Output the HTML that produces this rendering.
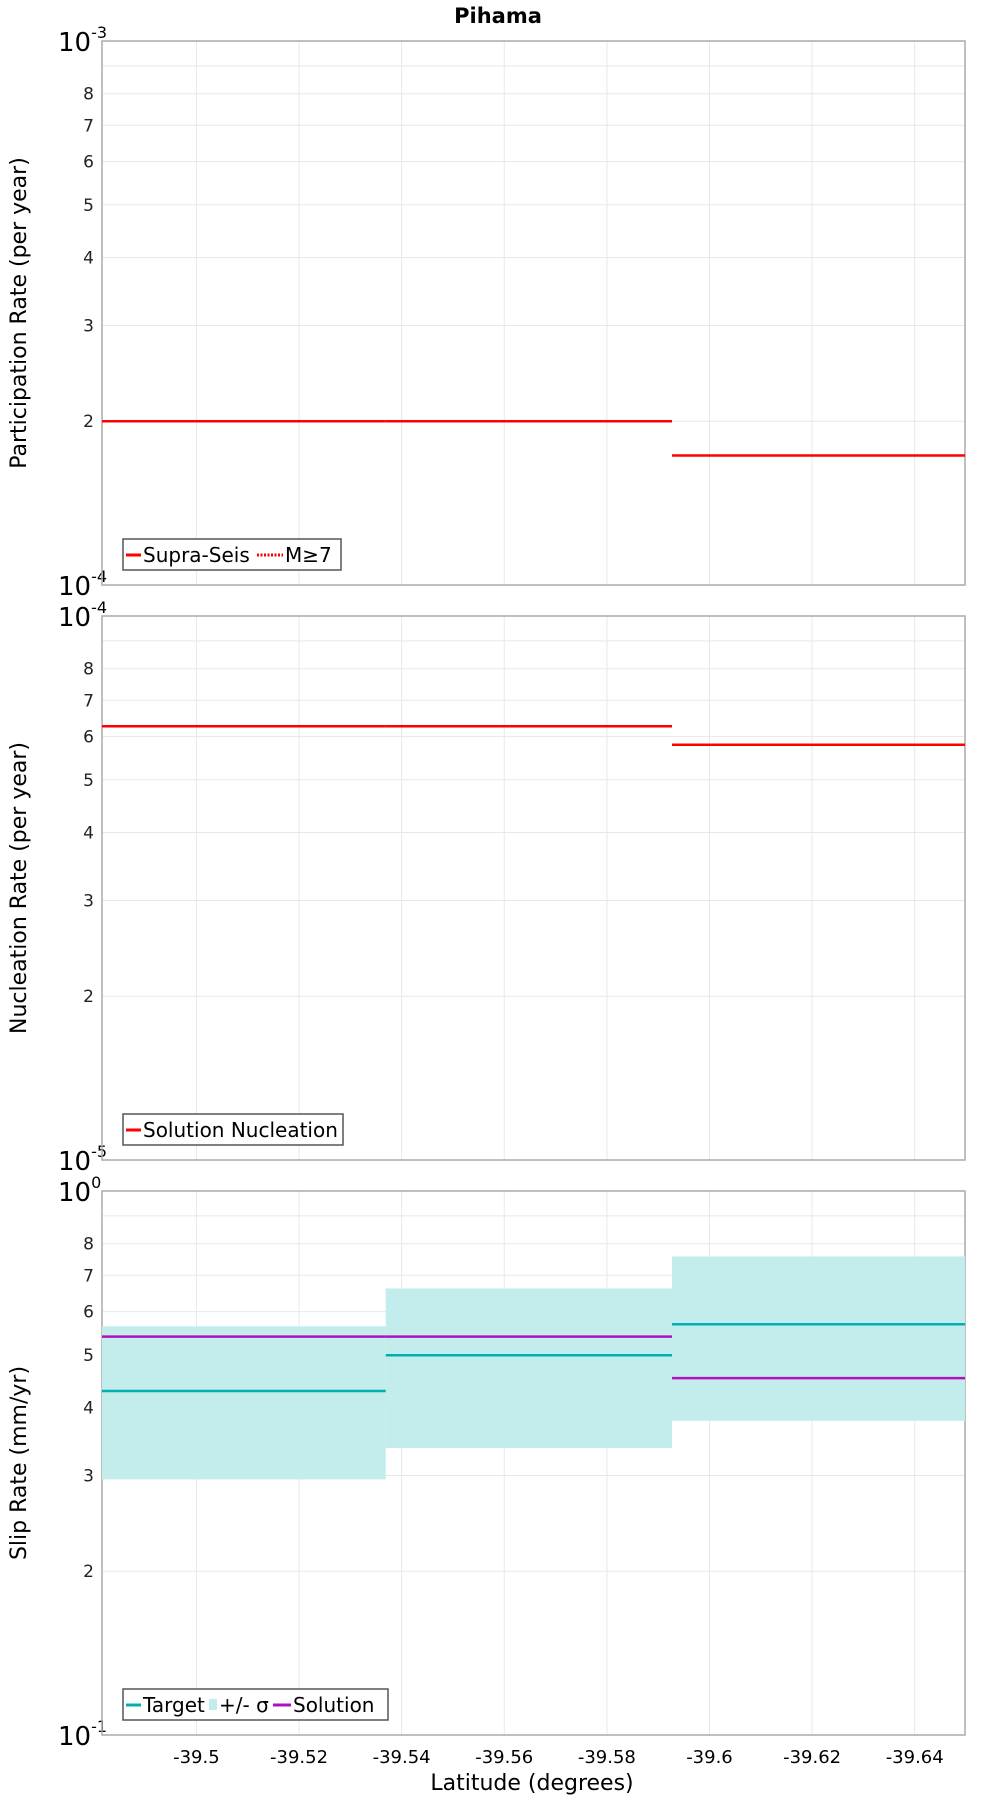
<!DOCTYPE html>
<html><head><meta charset="utf-8"><style>
html,body{margin:0;padding:0;background:#fff;}
svg{display:block;font-family:"DejaVu Sans","Liberation Sans",sans-serif;}
</style></head><body>
<svg id="chart" width="1000" height="1800" viewBox="0 0 1000 1800" xmlns="http://www.w3.org/2000/svg">
<text x="498" y="23" text-anchor="middle" font-size="21" font-weight="bold">Pihama</text>
<text x="532" y="1790" text-anchor="middle" font-size="22">Latitude (degrees)</text>
</svg>
<script>
const binEdges = [-39.4816, -39.5369, -39.5927, -39.6498];
const xTicks = [-39.5, -39.52, -39.54, -39.56, -39.58, -39.6, -39.62, -39.64];
const xTickLabels = ["-39.5","-39.52","-39.54","-39.56","-39.58","-39.6","-39.62","-39.64"];
const partSupra = [2.0e-4, 2.0e-4, 1.73e-4];
const nuclSolution = [6.27e-5, 6.27e-5, 5.80e-5];
const slipTarget = [0.429, 0.499, 0.569];
const slipUpper = [0.564, 0.662, 0.758];
const slipLower = [0.295, 0.337, 0.378];
const slipSolution = [0.540, 0.540, 0.453];
const minorTicks = [2,3,4,5,6,7,8,9];
const minorTickLabels = ["2","3","4","5","6","7","8",""];

const NS = "http://www.w3.org/2000/svg";
const svg = document.getElementById('chart');
const L = 102, R = 965, H = 544;
function mk(tag, attrs, parent){const e=document.createElementNS(NS,tag);for(const k in attrs)e.setAttribute(k,attrs[k]);(parent||svg).appendChild(e);return e;}
function xs(v){return L + (v - binEdges[0])/(binEdges[binEdges.length-1]-binEdges[0])*(R-L);}

function panel(top, decade, expTop, expBot, title, name){
  const g = mk('g',{});
  
  
  const bot = top + H;
  const ys = v => bot - Math.log10(v/decade)*H;
  xTicks.forEach((t,i)=>{
    const gl = mk('line',{x1:xs(t),x2:xs(t),y1:top,y2:bot,stroke:'#e8e8e8','stroke-width':1},g);
    
    
  });
  minorTicks.forEach((m,i)=>{
    const y = ys(m*decade);
    const gl = mk('line',{x1:L,x2:R,y1:y,y2:y,stroke:'#e8e8e8','stroke-width':1},g);
    
    
    if(minorTickLabels[i]){
      const t = mk('text',{x:94,y:y+6,'text-anchor':'end','font-size':17,fill:'#222'},g);
      t.textContent = minorTickLabels[i];
      
      
    }
  });
  [[top,expTop],[bot,expBot]].forEach(([y,ex])=>{
    const t = mk('text',{x:58,y:y+10,'font-size':26,fill:'#000'},g);
    
    
    t.textContent='10';
    const s = mk('tspan',{dy:-13,'font-size':16},t);
    s.textContent = ex;
  });
  const fr = mk('rect',{x:L,y:top,width:R-L,height:H,fill:'none',stroke:'#aaa','stroke-width':1.5},g);
  
  
  const yt = mk('text',{x:0,y:0,'text-anchor':'middle','font-size':22,transform:`translate(26,${top+H/2}) rotate(-90)`},g);
  yt.textContent = title;
  
  
  return {g, ys, top, bot};
}

function steps(p, vals, color, name){
  vals.forEach((v,i)=>{
    const l = mk('line',{x1:xs(binEdges[i]),x2:xs(binEdges[i+1]),y1:p.ys(v),y2:p.ys(v),stroke:color,'stroke-width':2.5},p.g);
    
    
  });
}

function legend(p, x, w, items){
  const y = p.bot - 46;
  const lg = mk('g',{},p.g);
  
  
  mk('rect',{x:x,y:y,width:w,height:31,fill:'#fff',stroke:'#555','stroke-width':1.5},lg);
  let cx = x+3;
  items.forEach(it=>{
    const e = mk('g',{},lg);
    
    
    if(it.type==='box') mk('rect',{x:cx,y:y+10,width:8,height:11,fill:it.color},e);
    else mk('line',{x1:cx,x2:cx+it.len,y1:y+16,y2:y+16,stroke:it.color,'stroke-width':3,'stroke-dasharray':it.dash||'none'},e);
    cx += (it.type==='box'?10:it.len+2);
    const t = mk('text',{x:cx,y:y+23,'font-size':20},e);
    t.textContent = it.label;
    cx += it.tw;
  });
}

const p1 = panel(41, 1e-4, '-3', '-4', 'Participation Rate (per year)', 'participation-panel');
steps(p1, partSupra, '#ff0000', 'supra-seis-line');
legend(p1, 123, 218, [{color:'#ff0000',len:15,label:'Supra-Seis',tw:114},{color:'#ff0000',len:26,dash:'2,1.5',label:'M≥7',tw:50}]);

const p2 = panel(616, 1e-5, '-4', '-5', 'Nucleation Rate (per year)', 'nucleation-panel');
steps(p2, nuclSolution, '#ff0000', 'solution-nucleation-line');
legend(p2, 123, 220, [{color:'#ff0000',len:15,label:'Solution Nucleation',tw:200}]);

const p3 = panel(1191, 0.1, '0', '-1', 'Slip Rate (mm/yr)', 'slip-rate-panel');
slipUpper.forEach((u,i)=>{
  const r = mk('rect',{x:xs(binEdges[i]),y:p3.ys(u),width:xs(binEdges[i+1])-xs(binEdges[i]),height:p3.ys(slipLower[i])-p3.ys(u),fill:'#c3ecec'},p3.g);
  
  
});
steps(p3, slipTarget, '#00b0b0', 'target-line');
steps(p3, slipSolution, '#b010c0', 'solution-line');
legend(p3, 123, 265, [{color:'#00b0b0',len:15,label:'Target',tw:66},{type:'box',color:'#c3ecec',label:'+/- σ',tw:54},{color:'#b010c0',len:18,label:'Solution',tw:90}]);

xTicks.forEach((t,i)=>{
  const tx = mk('text',{x:xs(t),y:1763,'text-anchor':'middle','font-size':18});
  tx.textContent = xTickLabels[i];
  
  
});
</script>
</body></html>
